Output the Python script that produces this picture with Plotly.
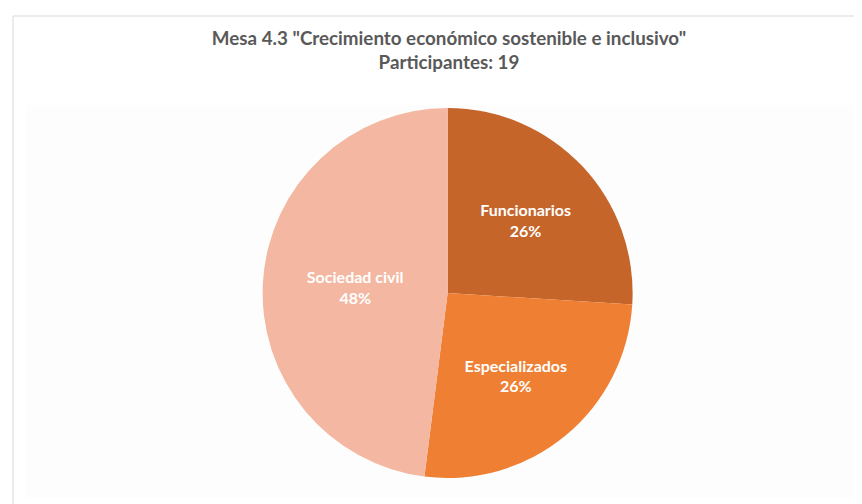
import plotly.graph_objects as go

categories = ["Funcionarios", "Especializados", "Sociedad civil"]
values = [26, 26, 48]
colors = ["#C5652A", "#EF7F33", "#F4B8A2"]
title_line1 = 'Mesa 4.3 "Crecimiento económico sostenible e inclusivo"'
title_line2 = "Participantes: 19"

fig = go.Figure()
fig.add_trace(go.Pie(
    labels=categories,
    values=values,
    sort=False,
    direction="clockwise",
    rotation=0,
    marker=dict(colors=colors, line=dict(color="rgba(0,0,0,0)", width=0)),
    textinfo="label+percent",
    texttemplate="<b>%{label}</b><br><b>%{percent:.0%}</b>",
    textposition="inside",
    insidetextorientation="horizontal",
    insidetextfont=dict(family="Lato, Open Sans, sans-serif", size=16, color="white"),
    showlegend=False,
    hoverinfo="label+percent",
    domain=dict(x=[0.25, 0.77], y=[0.0675, 0.8016]),
))

fig.update_layout(
    width=862, height=504,
    margin=dict(l=0, r=0, t=0, b=0),
    paper_bgcolor="white",
    title=dict(
        text=f"<b>{title_line1}</b><br><b>{title_line2}</b>",
        x=0.5116, xanchor="center",
        y=1 - 37 / 504, yanchor="middle",
        font=dict(family="Lato, Open Sans, sans-serif", size=18.8, color="#595959"),
    ),
    shapes=[
        dict(type="rect", xref="paper", yref="paper",
             x0=18 / 862, x1=852 / 862, y0=1 - 490 / 504, y1=1 - 97 / 504,
             fillcolor="#FDFDFD", line=dict(width=0), layer="below"),
        dict(type="rect", xref="paper", yref="paper",
             x0=5 / 862, x1=861 / 862, y0=0, y1=1 - 8 / 504,
             fillcolor="rgba(0,0,0,0)", line=dict(color="#D9D9D9", width=1), layer="below"),
    ],
)

fig.write_html("out.html")
